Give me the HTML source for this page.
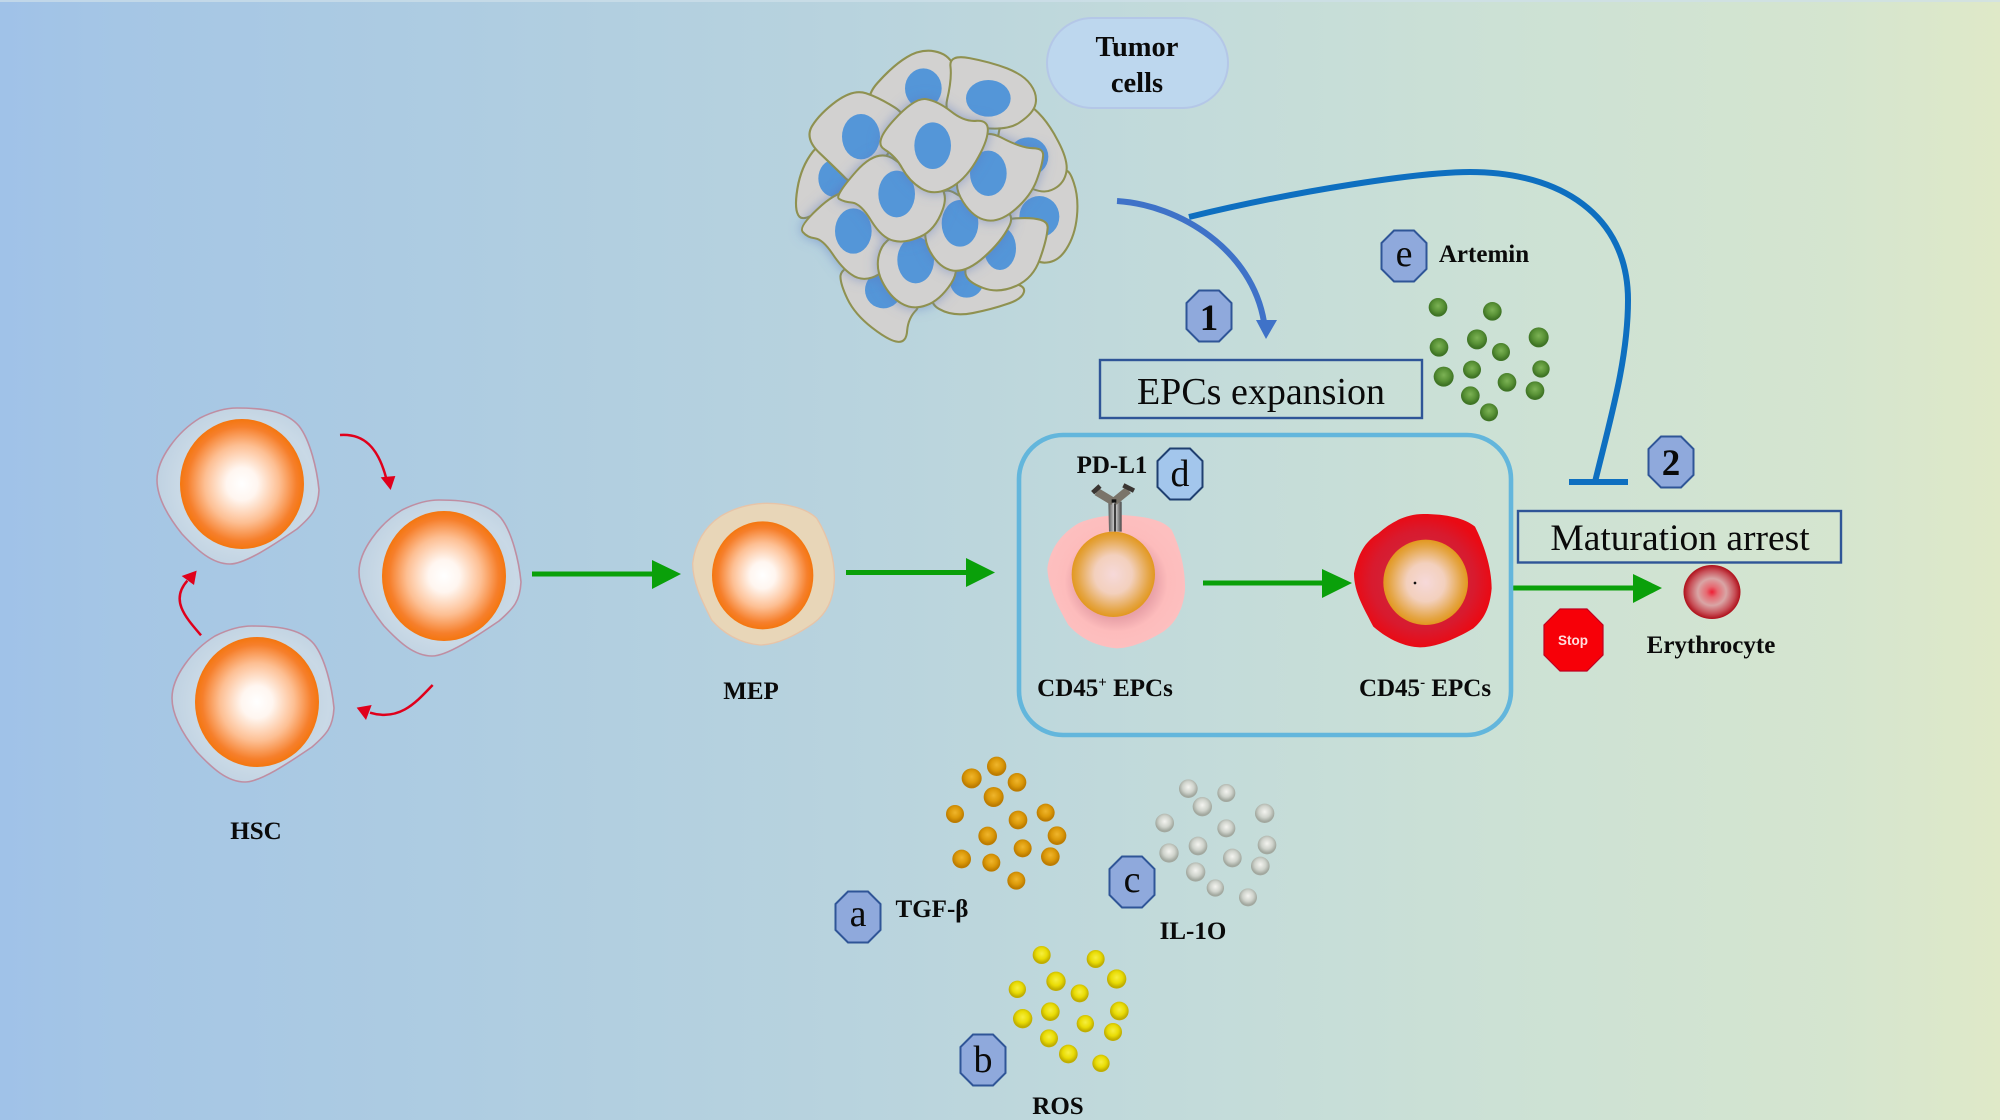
<!DOCTYPE html>
<html><head><meta charset="utf-8"><style>
html,body{margin:0;padding:0;width:2000px;height:1120px;overflow:hidden;background:#b9d3df}
svg{display:block}
text{font-family:"Liberation Serif",serif;fill:#0a0a0a}
.l{font-weight:bold;font-size:25px;text-anchor:middle}
.b{font-size:38px;text-anchor:middle}
.n{font-weight:bold;font-size:37px;text-anchor:middle}
.tc path{fill:#d2d1d0;stroke:#8f9150;stroke-width:5.4;stroke-linejoin:round}
.tc ellipse{fill:#5496d8}
.s{filter:url(#sh)}
</style></head><body>
<svg width="2000" height="1120" viewBox="0 0 2000 1120" xmlns="http://www.w3.org/2000/svg">
<defs>
<linearGradient id="bg" x1="0" x2="1" y1="0" y2="0">
<stop offset="0" stop-color="#a0c2e8"/><stop offset=".06" stop-color="#a5c6e5"/><stop offset=".25" stop-color="#afcde1"/><stop offset=".42" stop-color="#b8d3de"/><stop offset=".6" stop-color="#c3dbda"/><stop offset=".75" stop-color="#cce1d5"/><stop offset=".92" stop-color="#d5e5cf"/><stop offset="1" stop-color="#dfe9c8"/>
</linearGradient>
<radialGradient id="nuc"><stop offset="0" stop-color="#fff"/><stop offset=".25" stop-color="#fff6f0"/><stop offset=".6" stop-color="#fdbf93"/><stop offset=".88" stop-color="#f67f2b"/><stop offset="1" stop-color="#f4760f"/></radialGradient>
<radialGradient id="cellg" cx=".55" cy=".5" r=".6"><stop offset="0" stop-color="#b4c8da"/><stop offset=".7" stop-color="#c9d9e6"/><stop offset="1" stop-color="#bccfe0"/></radialGradient>
<radialGradient id="nuc2"><stop offset="0" stop-color="#f6d9d9"/><stop offset=".45" stop-color="#f3d0bd"/><stop offset=".85" stop-color="#e5a545"/><stop offset="1" stop-color="#e2981f"/></radialGradient>
<radialGradient id="pink"><stop offset="0" stop-color="#d58a94"/><stop offset=".55" stop-color="#e9a2a8"/><stop offset=".75" stop-color="#fdbcbc"/><stop offset="1" stop-color="#fdbfbf"/></radialGradient>
<radialGradient id="red"><stop offset="0" stop-color="#c9304a"/><stop offset=".75" stop-color="#d81a2e"/><stop offset="1" stop-color="#ea0a14"/></radialGradient>
<radialGradient id="ery"><stop offset="0" stop-color="#ee1f35"/><stop offset=".2" stop-color="#e66a72"/><stop offset=".5" stop-color="#d9a5a5"/><stop offset=".8" stop-color="#c85058"/><stop offset="1" stop-color="#ae0f1a"/></radialGradient>
<radialGradient id="bO" cx=".5" cy=".42"><stop offset="0" stop-color="#efb52c"/><stop offset=".6" stop-color="#dc9a0a"/><stop offset="1" stop-color="#bd7c00"/></radialGradient>
<radialGradient id="bG" cx=".5" cy=".42"><stop offset="0" stop-color="#f4f4f0"/><stop offset=".6" stop-color="#cfd3cc"/><stop offset="1" stop-color="#a2a89f"/></radialGradient>
<radialGradient id="bY" cx=".5" cy=".42"><stop offset="0" stop-color="#f6ee40"/><stop offset=".6" stop-color="#e9dc05"/><stop offset="1" stop-color="#c0ae00"/></radialGradient>
<radialGradient id="bV" cx=".5" cy=".42"><stop offset="0" stop-color="#7cb255"/><stop offset=".6" stop-color="#5a9337"/><stop offset="1" stop-color="#3f7425"/></radialGradient>
<linearGradient id="ab" x1="0" x2="1" y1="0" y2="0"><stop offset="0" stop-color="#555"/><stop offset=".5" stop-color="#ddd"/><stop offset="1" stop-color="#444"/></linearGradient>
<filter id="sh" x="-30%" y="-30%" width="160%" height="160%"><feDropShadow dx="0" dy="0" stdDeviation="16" flood-color="#5a78c0" flood-opacity=".55"/></filter>
<polygon id="oct" points="-10,-25.5 10,-25.5 22.5,-13 22.5,13 10,25.5 -10,25.5 -22.5,13 -22.5,-13" fill="#8fa9dc" stroke="#2f5597" stroke-width="2"/>
<g id="hsc">
<path d="M-5,-76 C25,-76 45,-72 57,-58 C68,-44 75,-15 77,6 C76,25 70,32 55,45 C40,55 5,80 -12,80 C-30,80 -45,66 -60,50 C-72,35 -85,15 -85,-4 C-85,-25 -65,-52 -42,-66 C-28,-73 -15,-76 -5,-76Z" fill="url(#cellg)" stroke="#bf8ea2" stroke-width="1.6"/>
<ellipse cx="0" cy="0" rx="62" ry="65" fill="url(#nuc)"/>
</g>
</defs>

<rect width="2000" height="1120" fill="url(#bg)"/>
<rect width="2000" height="2" fill="#cfe0ea" opacity=".7"/>

<!-- tumor cells -->
<g class="tc" transform="translate(770,0) scale(.33333)">
<path transform="translate(915,650) scale(1.15) translate(-915,-650)" d="M890,532Q900,525 912,562Q925,600 920,650Q915,700 892,735Q870,770 835,770Q800,770 765,710Q730,650 755,607Q780,565 830,552Q880,540 890,532Z"/><ellipse cx="808" cy="650" rx="60" ry="62"/>
<path transform="translate(890,430) scale(1.15) translate(-890,-430)" d="M737,350Q770,310 805,340Q840,370 868,425Q897,480 888,510Q880,540 850,552Q820,565 770,532Q720,500 712,445Q705,390 737,350Z"/><ellipse cx="775" cy="470" rx="60" ry="58"/>
<path transform="translate(440,155) scale(1.18) translate(-440,-155)" d="M340,312Q300,280 340,235Q380,190 415,169Q450,148 485,154Q520,160 534,190Q548,220 551,255Q555,290 542,315Q530,340 455,342Q380,345 340,312Z"/><ellipse cx="460" cy="265" rx="55" ry="60"/>
<path transform="translate(660,180) scale(1.14) translate(-660,-180)" d="M556,197Q552,165 606,175Q660,185 705,202Q750,220 767,245Q785,270 780,295Q775,320 737,345Q700,370 617,355Q535,340 547,285Q560,230 556,197Z"/><ellipse cx="655" cy="295" rx="67" ry="55"/>
<path transform="translate(75,560) scale(1.2) translate(-75,-560)" d="M120,472Q150,435 190,477Q230,520 222,540Q215,560 157,605Q100,650 86,635Q72,620 81,565Q90,510 120,472Z"/><ellipse cx="190" cy="535" rx="45" ry="55"/>
<path transform="translate(150,340) scale(1.18) translate(-150,-340)" d="M192,309Q235,278 267,289Q300,300 340,325Q380,350 355,395Q330,440 285,485Q240,530 215,505Q190,480 150,442Q110,405 130,372Q150,340 192,309Z"/><ellipse cx="273" cy="410" rx="57" ry="68"/>
<path transform="translate(300,1000) scale(1.15) translate(-300,-1000)" d="M223,850Q225,830 272,815Q320,800 380,860Q440,920 420,940Q400,960 397,992Q395,1025 372,1022Q350,1020 305,985Q260,950 241,910Q222,870 223,850Z"/><ellipse cx="340" cy="870" rx="55" ry="55"/>
<path transform="translate(620,945) scale(1.18) translate(-620,-945)" d="M515,860Q540,810 575,810Q610,810 645,835Q680,860 712,865Q745,870 740,887Q735,905 697,917Q660,930 610,940Q560,950 525,930Q490,910 515,860Z"/><ellipse cx="590" cy="845" rx="50" ry="48"/>
<path transform="translate(790,800) scale(1.16) translate(-790,-800)" d="M635,740Q660,680 745,675Q830,670 827,700Q825,730 807,780Q790,830 745,850Q700,870 660,855Q620,840 615,820Q610,800 635,740Z"/><ellipse cx="690" cy="745" rx="48" ry="65"/>
<path class="s" transform="translate(90,690) scale(1.14) translate(-90,-690)" d="M255,595Q210,570 147,625Q85,680 97,695Q110,710 130,712Q150,715 175,752Q200,790 225,807Q250,825 280,815Q310,805 340,762Q370,720 335,670Q300,620 255,595Z"/><ellipse cx="250" cy="693" rx="55" ry="68"/>
<path class="s" transform="translate(440,810) scale(1.15) translate(-440,-810)" d="M345,760Q360,720 420,710Q480,700 520,750Q560,800 530,845Q500,890 465,902Q430,915 400,897Q370,880 350,840Q330,800 345,760Z"/><ellipse cx="437" cy="780" rx="55" ry="70"/>
<path class="s" transform="translate(590,690) scale(1.16) translate(-590,-690)" d="M495,635Q520,570 560,595Q600,620 660,630Q720,640 700,680Q680,720 635,760Q590,800 555,795Q520,790 495,745Q470,700 495,635Z"/><ellipse cx="570" cy="670" rx="55" ry="70"/>
<path class="s" transform="translate(370,600) scale(1.14) translate(-370,-600)" d="M375,495Q330,460 272,525Q215,590 227,597Q240,605 262,607Q285,610 312,655Q340,700 370,707Q400,715 440,697Q480,680 500,625Q520,570 470,550Q420,530 375,495Z"/><ellipse cx="380" cy="582" rx="55" ry="70"/>
<path class="s" transform="translate(680,530) scale(1.14) translate(-680,-530)" d="M620,450Q640,400 692,427Q745,455 775,455Q805,455 802,477Q800,500 785,540Q770,580 730,615Q690,650 655,645Q620,640 592,597Q565,555 582,527Q600,500 620,450Z"/><ellipse cx="655" cy="520" rx="55" ry="68"/>
<path class="s" transform="translate(480,440) scale(1.14) translate(-480,-440)" d="M385,370Q440,310 470,315Q500,320 535,347Q570,375 602,372Q635,370 632,400Q630,430 600,480Q570,530 530,550Q490,570 457,550Q425,530 407,497Q390,465 360,447Q330,430 385,370Z"/><ellipse cx="488" cy="437" rx="55" ry="70"/>
</g>

<!-- tumor label -->
<rect x="1047" y="18" width="181" height="90" rx="45" fill="#bdd7ee" stroke="#b4c7e7" stroke-width="2"/>
<text x="1137" y="56" class="l" style="font-size:28.5px">Tumor</text>
<text x="1137" y="92" class="l" style="font-size:28.5px">cells</text>

<!-- blue connectors -->
<path d="M1189,217 C1300,190 1420,172 1470,172 C1560,172 1628,215 1628,300 C1628,360 1610,420 1595,482" fill="none" stroke="#0e6fc0" stroke-width="6"/>
<rect x="1569" y="479" width="59" height="6" fill="#0e6fc0"/>
<path d="M1117,201 C1180,205 1252,250 1264,322" fill="none" stroke="#3f72c8" stroke-width="6"/>
<polygon points="1256,320 1277,320 1266,339" fill="#3f72c8"/>

<!-- HSC -->
<use href="#hsc" x="242" y="484"/>
<use href="#hsc" x="444" y="576"/>
<use href="#hsc" x="257" y="702"/>
<g transform="translate(130,390) scale(.33333)" fill="none" stroke="#e0001b" stroke-width="7.5">
<path d="M630,135 C700,130 745,170 770,270"/>
<polygon points="782,300 752,262 796,258" fill="#e0001b" stroke="none"/>
<path d="M908,885 C860,935 810,995 720,968"/>
<polygon points="680,953 725,945 708,990" fill="#e0001b" stroke="none"/>
<path d="M213,736 C165,680 120,630 172,572"/>
<polygon points="200,542 155,558 192,585" fill="#e0001b" stroke="none"/>
</g>
<text x="256" y="839" class="l">HSC</text>

<!-- green arrows -->
<g fill="#0aa00a">
<rect x="532" y="571.5" width="122" height="5"/><polygon points="652,560 681,574 652,589"/>
<rect x="846" y="570" width="122" height="5"/><polygon points="966,558 995,572.5 966,587"/>
<rect x="1203" y="580.5" width="122" height="5"/><polygon points="1322,569 1352,583 1322,598"/>
<rect x="1513" y="585.5" width="122" height="5"/><polygon points="1633,574 1662,588 1633,603"/>
</g>

<!-- MEP -->
<g transform="translate(670,480) scale(.33333)">
<path d="M290,70 C350,70 410,85 440,115 C475,170 495,240 493,300 C490,360 470,400 430,430 C380,465 320,495 270,495 C210,490 160,460 125,420 C100,370 68,310 68,250 C75,190 105,140 150,110 C190,85 240,70 290,70Z" fill="#e8d6b8" stroke="#e7c4a8" stroke-width="4"/>
<ellipse cx="278" cy="286" rx="152" ry="162" fill="url(#nuc)"/>
</g>
<text x="751" y="699" class="l">MEP</text>

<!-- frame -->
<rect x="1019" y="435" width="492" height="300" rx="44" fill="none" stroke="#63b6dc" stroke-width="4.6"/>

<!-- EPC cells -->
<g transform="translate(1000,420) scale(.33333)">
<path d="M370,285 C440,290 490,300 515,330 C540,380 557,450 555,510 C550,570 525,610 490,635 C440,665 390,685 350,685 C290,680 240,655 205,615 C180,570 145,510 142,445 C150,385 185,340 235,310 C280,290 330,285 370,285Z" fill="url(#pink)"/>
<polygon points="325,245 345,245 365,245 365,335 327,335" fill="url(#ab)"/>
<path d="M340,245 L290,215 M342,245 L385,210" stroke="#7a746a" stroke-width="24" fill="none"/>
<path d="M278,218 L300,198 M370,196 L402,212" stroke="#3a3532" stroke-width="14" fill="none"/>
<path d="M345,250 V335" stroke="#222" stroke-width="5"/>
<path d="M335,238 h14 v10 h-14z" fill="#111"/>
<ellipse cx="340" cy="463" rx="125" ry="128" fill="url(#nuc2)"/>
<path d="M1270,282 C1340,282 1395,295 1425,320 C1450,370 1475,440 1475,505 C1470,565 1450,600 1420,625 C1370,655 1310,682 1260,682 C1210,680 1160,655 1120,620 C1095,570 1062,520 1062,460 C1075,400 1095,365 1135,340 C1180,300 1225,282 1270,282Z" fill="url(#red)"/>
<ellipse cx="1277" cy="487" rx="127" ry="128" fill="url(#nuc2)"/>
<circle cx="1245" cy="489" r="4" fill="#111"/>
</g>
<text x="1112" y="473" class="l">PD-L1</text>
<text x="1105" y="696" class="l">CD45<tspan font-size="15" dy="-9">+</tspan><tspan dy="9"> EPCs</tspan></text>
<text x="1425" y="696" class="l">CD45<tspan font-size="15" dy="-9">-</tspan><tspan dy="9"> EPCs</tspan></text>

<!-- process boxes -->
<rect x="1100" y="360" width="322" height="58" fill="none" stroke="#2f5597" stroke-width="2.4"/>
<text x="1261" y="404" style="font-size:38px" text-anchor="middle">EPCs expansion</text>
<rect x="1518" y="511" width="323" height="51.5" fill="none" stroke="#2f5597" stroke-width="2.4"/>
<text x="1680" y="550" style="font-size:37.5px" text-anchor="middle">Maturation arrest</text>

<!-- erythrocyte -->
<ellipse cx="1712" cy="592" rx="28.5" ry="27" fill="url(#ery)"/>
<text x="1711" y="653" class="l">Erythrocyte</text>
<polygon points="1560,609 1587,609 1603,625 1603,655 1587,671 1560,671 1544,655 1544,625" fill="#f70008" stroke="#c00020" stroke-width="1.2"/>
<text x="1573" y="645" style="font-family:'Liberation Sans',sans-serif;font-size:13.5px;font-weight:bold;fill:#ffdede" text-anchor="middle">Stop</text>

<!-- badges -->
<use href="#oct" x="1209" y="316"/><text x="1209" y="330" class="n">1</text>
<use href="#oct" x="1671" y="462"/><text x="1671" y="475" class="n">2</text>
<use href="#oct" x="858" y="917"/><text x="858" y="926" class="b">a</text>
<use href="#oct" x="983" y="1060"/><text x="983" y="1072" class="b">b</text>
<use href="#oct" x="1132" y="882"/><text x="1132" y="892" class="b">c</text>
<polygon transform="translate(1180,474)" points="-10,-25.5 10,-25.5 22.5,-13 22.5,13 10,25.5 -10,25.5 -22.5,13 -22.5,-13" fill="#a3c6ec" stroke="#1f3f70" stroke-width="2"/><text x="1180" y="486" class="b">d</text>
<use href="#oct" x="1404" y="256"/><text x="1404" y="266" class="b">e</text>

<!-- balls -->
<g transform="translate(820,740) scale(.33333)">
<g fill="url(#bO)"><circle cx="530" cy="79" r="29"/><circle cx="455" cy="115" r="30"/><circle cx="591" cy="127" r="28"/><circle cx="521" cy="171" r="30"/><circle cx="405" cy="222" r="27"/><circle cx="594" cy="240" r="28"/><circle cx="677" cy="218" r="27"/><circle cx="503" cy="288" r="28"/><circle cx="711" cy="287" r="28"/><circle cx="608" cy="325" r="27"/><circle cx="425" cy="357" r="28"/><circle cx="514" cy="368" r="27"/><circle cx="691" cy="350" r="28"/><circle cx="589" cy="422" r="27"/></g>
<g fill="url(#bG)"><circle cx="1105" cy="146" r="28"/><circle cx="1219" cy="159" r="27"/><circle cx="1147" cy="200" r="29"/><circle cx="1334" cy="220" r="29"/><circle cx="1034" cy="249" r="28"/><circle cx="1219" cy="265" r="27"/><circle cx="1047" cy="339" r="29"/><circle cx="1134" cy="318" r="28"/><circle cx="1341" cy="315" r="28"/><circle cx="1237" cy="354" r="28"/><circle cx="1321" cy="378" r="28"/><circle cx="1127" cy="396" r="29"/><circle cx="1186" cy="444" r="26"/><circle cx="1284" cy="472" r="27"/></g>
<g fill="url(#bY)"><circle cx="665" cy="645" r="27"/><circle cx="827" cy="657" r="27"/><circle cx="708" cy="724" r="29"/><circle cx="890" cy="717" r="29"/><circle cx="592" cy="748" r="26"/><circle cx="779" cy="760" r="27"/><circle cx="691" cy="815" r="28"/><circle cx="898" cy="813" r="28"/><circle cx="608" cy="836" r="29"/><circle cx="796" cy="851" r="26"/><circle cx="879" cy="876" r="27"/><circle cx="687" cy="895" r="27"/><circle cx="745" cy="942" r="28"/><circle cx="843" cy="970" r="26"/></g>
</g>
<g transform="translate(1360,210) scale(.33333)" fill="url(#bV)"><circle cx="234" cy="292" r="28"/><circle cx="397" cy="304" r="28"/><circle cx="351" cy="388" r="30"/><circle cx="536" cy="382" r="30"/><circle cx="237" cy="412" r="28"/><circle cx="423" cy="426" r="27"/><circle cx="336" cy="479" r="27"/><circle cx="543" cy="477" r="26"/><circle cx="251" cy="500" r="30"/><circle cx="441" cy="517" r="28"/><circle cx="525" cy="542" r="28"/><circle cx="331" cy="557" r="28"/><circle cx="387" cy="607" r="27"/></g>

<text x="932" y="917" class="l">TGF-β</text>
<text x="1193" y="939" class="l">IL-1O</text>
<text x="1058" y="1114" class="l">ROS</text>
<text x="1484" y="262" class="l">Artemin</text>
</svg>
</body></html>
